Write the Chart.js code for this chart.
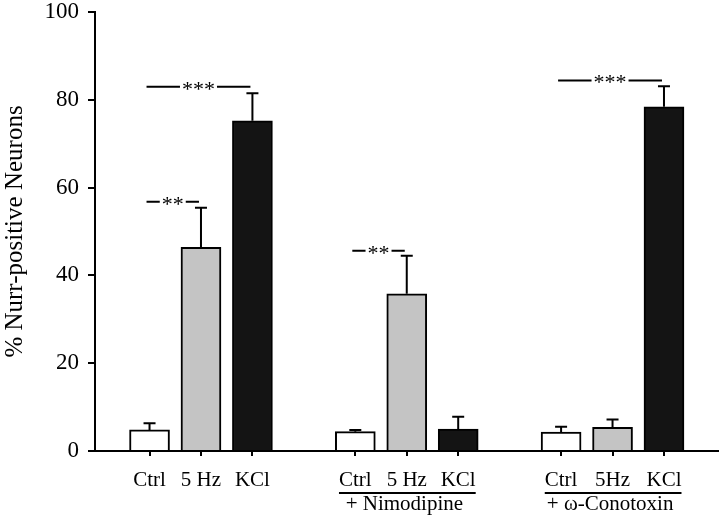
<!DOCTYPE html>
<html>
<head>
<meta charset="utf-8">
<script src="https://cdn.jsdelivr.net/npm/chart.js@4.4.0/dist/chart.umd.min.js"></script>
<style>
  body { margin: 0; background: #fff; }
  #wrap { width: 720px; height: 518px; position: relative; }
</style>
</head>
<body>
<div id="wrap"><canvas id="chart"></canvas></div>
<script>
// bar slots (empty slots 3 and 7 separate the groups)
var positions = [0, 1, 2, 4, 5, 6, 8, 9, 10];
var tickLabels = ['Ctrl', '5 Hz', 'KCl', 'Ctrl', '5 Hz', 'KCl', 'Ctrl', '5Hz', 'KCl'];
var values = [4.8, 46.4, 75.2, 4.4, 35.8, 5.0, 4.3, 5.4, 78.4];
var errors = [1.5, 9.0, 6.3, 0.4, 8.7, 2.8, 1.2, 1.8, 4.7];
var barColors = ['#ffffff', '#c4c4c4', '#141414', '#ffffff', '#c4c4c4', '#141414', '#ffffff', '#c4c4c4', '#141414'];
var yTicks = [0, 20, 40, 60, 80, 100];

// significance brackets
var sigFrom = [0, 0, 4, 8];
var sigTo = [2, 1, 5, 10];
var sigY = [83, 56.8, 45.6, 84.4];
var sigText = ['***', '**', '**', '***'];

// group captions under the axis
var groupStart = [3, 6];   // index into positions
var groupEnd = [5, 8];
var groupText = ['+ Nimodipine', '+ \u03c9-Conotoxin'];

var serif = '"Liberation Serif", "Times New Roman", serif';

const errorBars = {
  id: 'errorBars',
  afterDatasetsDraw(chart) {
    const c = chart.ctx;
    const ys = chart.scales.y;
    const meta = chart.getDatasetMeta(0);
    c.save();
    c.strokeStyle = '#000';
    c.lineWidth = 2;
    meta.data.forEach(function (bar, i) {
      const top = ys.getPixelForValue(values[i]);
      const end = ys.getPixelForValue(values[i] + errors[i]);
      c.beginPath();
      c.moveTo(bar.x, top);
      c.lineTo(bar.x, end);
      c.moveTo(bar.x - 6, end);
      c.lineTo(bar.x + 6, end);
      c.stroke();
    });
    c.restore();
  }
};

const sigMarks = {
  id: 'sigMarks',
  afterDatasetsDraw(chart) {
    const c = chart.ctx;
    const xs = chart.scales.x, ys = chart.scales.y;
    c.save();
    c.strokeStyle = '#000';
    c.fillStyle = '#000';
    c.lineWidth = 2;
    c.font = '22px ' + serif;
    c.textAlign = 'center';
    c.textBaseline = 'alphabetic';
    for (let k = 0; k < sigText.length; k++) {
      const x1 = xs.getPixelForValue(sigFrom[k]) - 3;
      const x2 = xs.getPixelForValue(sigTo[k]) - 2;
      const y = ys.getPixelForValue(sigY[k]);
      const mid = (x1 + x2) / 2;
      const w = c.measureText(sigText[k]).width / 2 + 2;
      c.beginPath();
      c.moveTo(x1, y); c.lineTo(mid - w, y);
      c.moveTo(mid + w, y); c.lineTo(x2, y);
      c.stroke();
      c.fillText(sigText[k], mid, y + 9);
    }
    c.restore();
  }
};

const groupCaptions = {
  id: 'groupCaptions',
  afterDraw(chart) {
    const c = chart.ctx;
    const xs = chart.scales.x;
    const bottom = chart.chartArea.bottom;
    c.save();
    c.font = '21px ' + serif;
    for (let g = 0; g < groupText.length; g++) {
      const a = groupStart[g], b = groupEnd[g];
      const left = xs.getPixelForValue(positions[a]) - c.measureText(tickLabels[a]).width / 2;
      const right = xs.getPixelForValue(positions[b]) + c.measureText(tickLabels[b]).width / 2;
      c.strokeStyle = '#000';
      c.lineWidth = 2;
      c.beginPath();
      c.moveTo(left, bottom + 42);
      c.lineTo(right, bottom + 42);
      c.stroke();
      c.fillStyle = '#000';
      c.textAlign = 'center';
      c.fillText(groupText[g], (left + right) / 2 - 3, bottom + 59);
    }
    c.restore();
  }
};

const ctx = document.getElementById('chart');
const chart = new Chart(ctx, {
  type: 'bar',
  data: {
    datasets: [{
      data: positions.map(function (p, i) { return { x: p, y: values[i] }; }),
      backgroundColor: barColors,
      borderColor: '#000',
      borderWidth: 2,
      barThickness: 40
    }]
  },
  options: {
    responsive: true,
    maintainAspectRatio: false,
    animation: false,
    layout: { padding: { top: 0, right: 2, left: 0, bottom: 0 } },
    plugins: {
      legend: { display: false },
      tooltip: { enabled: false }
    },
    scales: {
      x: {
        type: 'linear',
        offset: false,
        min: -1.06,
        max: 11.05,
        afterBuildTicks: function (scale) {
          scale.ticks = positions.map(function (v) { return { value: v }; });
        },
        afterFit: function (scale) {
          scale.height = 67;
          scale.paddingLeft = 0;
          scale.paddingRight = 0;
        },
        ticks: {
          autoSkip: false,
          maxRotation: 0,
          padding: 12,
          color: '#000',
          font: { family: serif, size: 21 },
          callback: function (v, i) { return tickLabels[i]; }
        },
        grid: {
          display: true,
          offset: false,
          drawOnChartArea: false,
          drawTicks: true,
          tickLength: 5,
          color: '#000',
          lineWidth: 2
        },
        border: { display: true, color: '#000', width: 2 }
      },
      y: {
        min: 0,
        max: 100,
        afterBuildTicks: function (scale) {
          scale.ticks = yTicks.map(function (v) { return { value: v }; });
        },
        afterFit: function (scale) {
          scale.width = 95;
          scale.paddingTop = 12;
          scale.paddingBottom = 0;
        },
        ticks: {
          padding: 9,
          color: '#000',
          font: { family: serif, size: 23 }
        },
        grid: {
          display: true,
          drawOnChartArea: false,
          drawTicks: true,
          tickLength: 7,
          color: '#000',
          lineWidth: 2
        },
        border: { display: true, color: '#000', width: 2 },
        title: {
          display: true,
          text: '% Nurr-positive Neurons',
          color: '#000',
          padding: 0,
          font: { family: serif, size: 25 }
        }
      }
    }
  },
  plugins: [errorBars, sigMarks, groupCaptions]
});
</script>
</body>
</html>
